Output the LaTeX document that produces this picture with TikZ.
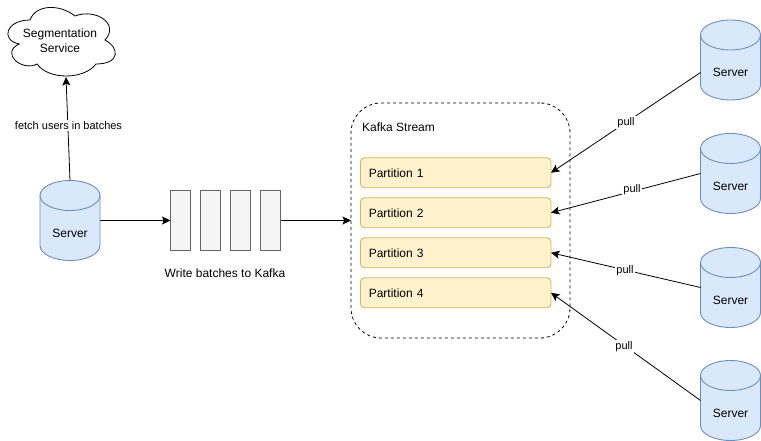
\documentclass[tikz,border=0pt]{standalone}
\usepackage{fontspec}
\setmainfont{Liberation Sans}
\usetikzlibrary{arrows.meta}
\definecolor{cylfill}{HTML}{DAE8FC}
\definecolor{cyldraw}{HTML}{6C8EBF}
\definecolor{partfill}{HTML}{FFF2CC}
\definecolor{partdraw}{HTML}{D6B656}
\definecolor{batfill}{HTML}{F5F5F5}
\definecolor{batdraw}{HTML}{666666}
\tikzset{
  x=1pt,y=-1pt,
  txt/.style={font=\fontsize{12}{15}\selectfont,text=black},
  small/.style={font=\fontsize{11}{13}\selectfont,fill=white,inner sep=1pt,text=black},
  conn/.style={draw=black,line width=0.8pt,-{Stealth[length=8.5pt,width=8pt,inset=1.8pt]}},
  cylbody/.style={fill=cylfill,draw=cyldraw,line width=0.9pt},
  cylbox/.style={minimum width=60pt,minimum height=80pt,inner sep=0pt,outer sep=0pt},
  cyltext/.style={txt,minimum width=60pt,inner sep=0pt,outer sep=0pt},
  partbox/.style={txt,draw=partdraw,fill=partfill,line width=0.9pt,rounded corners=4pt,minimum width=190.5pt,minimum height=30pt,inner sep=0pt,outer sep=0pt,text width=174pt,align=left},
  batbox/.style={draw=batdraw,fill=batfill,line width=0.9pt,minimum width=20pt,minimum height=60pt,inner sep=0pt,outer sep=0pt},
  kafkabox/.style={draw=black,dash pattern=on 3pt off 3pt,line width=0.8pt,rounded corners=30pt,minimum width=219pt,minimum height=235pt,inner sep=0pt,outer sep=0pt}
}
% name, centre x, top y
\newcommand{\cylnode}[3]{%
  \path[cylbody] (#2-30,#3+15) arc[x radius=30pt,y radius=15pt,start angle=180,end angle=0]
    -- (#2+30,#3+65) arc[x radius=30pt,y radius=15pt,start angle=0,end angle=-180]
    -- cycle;
  \path[cylbody,fill=none] (#2-30,#3+15) arc[x radius=30pt,y radius=15pt,start angle=180,end angle=360];
  \node[cylbox] (#1) at (#2,#3+40) {};
  \node[cyltext] (#1t) at (#2,#3+52.5) {Server};
}
\begin{document}
\begin{tikzpicture}
\useasboundingbox (0,0) rectangle (761,441);
\fill[white] (0,0) rectangle (761,441);
% cloud
\begin{scope}[x=1.2pt,y=-0.8pt]
\path[fill=white,draw=black,line width=0.8pt]
 (25,25) .. controls (5,25) and (0,50) .. (16,55)
 .. controls (0,66) and (18,90) .. (31,80)
 .. controls (40,100) and (70,100) .. (80,80)
 .. controls (100,80) and (100,60) .. (87.5,50)
 .. controls (100,30) and (80,10) .. (62.5,20)
 .. controls (50,5) and (30,5) .. (25,25) -- cycle;
\end{scope}
\node[txt,align=center] (cloud) at (60,40.5) {Segmentation\\Service};
\coordinate (cloudtip) at (66,77);
% kafka
\node[kafkabox] (kafka) at (460.5,220.5) {};
\node[txt,anchor=west,inner sep=0pt] (kafkalabel) at (362,127) {Kafka Stream};
\node[partbox] (p1) at (455.75,172.75) {Partition 1};
\node[partbox] (p2) at (455.75,212.75) {Partition 2};
\node[partbox] (p3) at (455.75,252.75) {Partition 3};
\node[partbox] (p4) at (455.75,292.75) {Partition 4};
% batches
\node[batbox] (b1) at (180.5,220.5) {};
\node[batbox] (b2) at (210.5,220.5) {};
\node[batbox] (b3) at (240.5,220.5) {};
\node[batbox] (b4) at (270.5,220.5) {};
\node[txt,inner sep=0pt] (writelabel) at (225,273) {Write batches to Kafka};
% cylinders
\cylnode{s0}{70}{180.5}
\cylnode{s1}{730.5}{20}
\cylnode{s2}{730.5}{133.5}
\cylnode{s3}{730.5}{247.5}
\cylnode{s4}{730.5}{360.5}
% connectors
\draw[conn] (s0.north) -- (cloudtip);
\draw[conn] (s0.east) -- (b1.west);
\draw[conn] (b4.east) -- (kafka.west);
\draw[conn] (s1t.west) -- (p1.east);
\draw[conn] (s2.west) -- (p2.east);
\draw[conn] (s3.west) -- (p3.east);
\draw[conn] (s4.west) -- (p4.east);
% labels
\node[small] (fetchlabel) at (68.5,125.5) {fetch users in batches};
\node[small] (pull1) at (626,122.5) {pull};
\node[small] (pull2) at (632,189.5) {pull};
\node[small] (pull3) at (625,270.5) {pull};
\node[small] (pull4) at (624,346.5) {pull};
\end{tikzpicture}
\end{document}
